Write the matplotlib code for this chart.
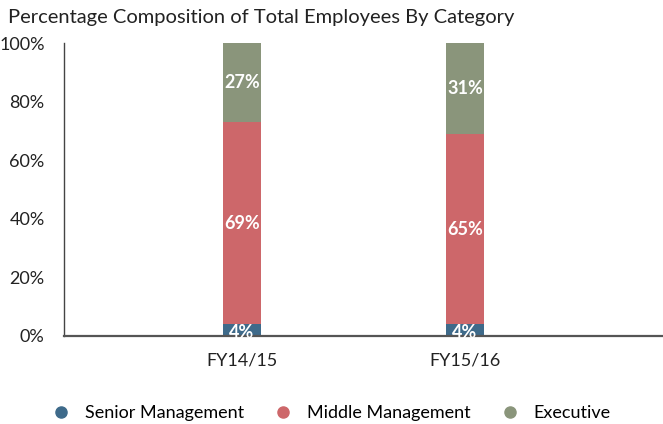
import matplotlib
matplotlib.use("Agg")
import matplotlib.pyplot as plt
import numpy as np

plt.rcParams['font.family'] = ['Lato', 'DejaVu Sans']

years = ["FY14/15", "FY15/16"]
senior = [4, 4]
middle = [69, 65]
executive = [27, 31]

colors = {"Senior Management": "#3e6a8a", "Middle Management": "#cd676a", "Executive": "#8a957b"}

fig = plt.figure(figsize=(6.63, 4.24), dpi=100)
ax = fig.add_axes([64 / 663, 1 - 336 / 424, 599 / 663, 293 / 424])

x = np.arange(len(years))
w = 0.17
bottom = np.zeros(len(years))
for name, vals in [("Senior Management", senior), ("Middle Management", middle), ("Executive", executive)]:
    vals = np.array(vals, dtype=float)
    ax.bar(x, vals, w, bottom=bottom, color=colors[name], label=name, zorder=2)
    for xi, b, v in zip(x, bottom, vals):
        ax.text(xi, b + v / 2 if v > 10 else b + v / 2 - 0.8, f"{int(v)}%", ha="center", va="center",
                color="white", fontsize=13, fontweight="bold", zorder=3)
    bottom += vals

ax.set_xlim(-0.798, 1.888)
ax.set_ylim(0, 100)
ax.set_yticks(range(0, 101, 20))
ax.set_yticklabels([f"{t}%" for t in range(0, 101, 20)])
ax.set_xticks(x)
ax.set_xticklabels(years)
ax.tick_params(axis="both", length=0, labelsize=13, colors="#222222")
ax.tick_params(axis="x", pad=12)
ax.tick_params(axis="y", pad=14)
for s in ["top", "right"]:
    ax.spines[s].set_visible(False)
ax.spines["left"].set_color("#444444")
ax.spines["bottom"].set_color("#555555")
ax.spines["bottom"].set_linewidth(1.6)
ax.spines["left"].set_linewidth(1.0)

fig.text(8 / 663, 1 - 18 / 424, "Percentage Composition of Total Employees By Category",
         fontsize=14.5, color="#222222", va="center", ha="left")

handles = [plt.Line2D([], [], marker="o", linestyle="", markersize=8, color=c) for c in colors.values()]
fig.legend(handles, list(colors.keys()), loc="center", bbox_to_anchor=(0.5, 1 - 413 / 424),
           ncol=3, frameon=False, fontsize=13, handlelength=1.0, handletextpad=0.8, columnspacing=1.7)

fig.savefig("out.png", dpi=100)
